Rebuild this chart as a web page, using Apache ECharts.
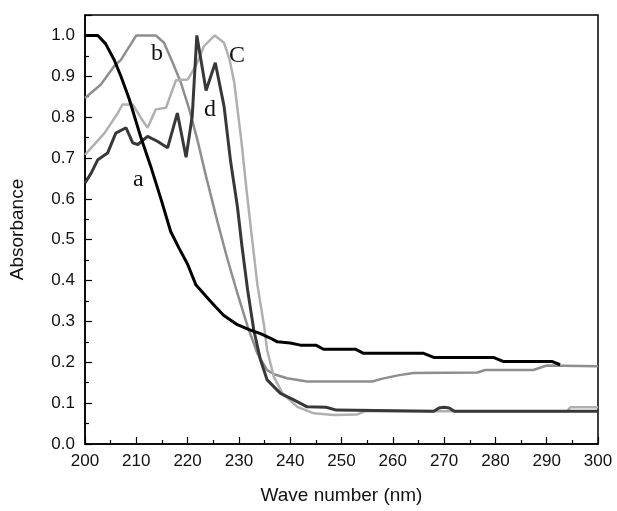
<!DOCTYPE html>
<html>
<head>
<meta charset="utf-8">
<script src="https://cdn.jsdelivr.net/npm/echarts@6/dist/echarts.min.js"></script>
<style>
  html, body { margin: 0; padding: 0; background: #fff; }
  #chart { width: 617px; height: 511px; }
</style>
</head>
<body>
<div id="chart"></div>
<script>
// curve a
var aX = [200, 202.5, 204, 205.7, 207, 208.6, 210.9, 212.8, 214.8, 216.7, 218.3, 220, 221.6, 224.5, 227, 229.7, 232, 234.2, 236, 237.5, 240, 242, 245, 246.5, 252.7, 254.3, 266, 268, 279.6, 281.5, 291, 292.6]
var aY = [1.0, 1.0, 0.98, 0.94, 0.9, 0.845, 0.75, 0.68, 0.6, 0.52, 0.48, 0.44, 0.39, 0.349, 0.315, 0.292, 0.28, 0.27, 0.26, 0.25, 0.247, 0.242, 0.242, 0.232, 0.232, 0.222, 0.222, 0.212, 0.212, 0.202, 0.202, 0.194]
// curve b
var bX = [200, 203.1, 205.7, 207, 210, 213.8, 215.4, 217.1, 218.7, 220.3, 221.9, 223.5, 225.8, 227.8, 229.7, 231.7, 233.6, 235.5, 237, 239.4, 243.3, 256, 258, 261, 264, 276.5, 278, 287.4, 290, 300]
var bY = [0.847, 0.88, 0.925, 0.94, 1.0, 1.0, 0.982, 0.933, 0.884, 0.82, 0.745, 0.66, 0.545, 0.451, 0.369, 0.288, 0.222, 0.181, 0.17, 0.161, 0.153, 0.153, 0.16, 0.168, 0.174, 0.175, 0.181, 0.181, 0.192, 0.19]
// curve c
var cX = [200, 203.8, 206.4, 207.3, 209.3, 210.9, 212.2, 213.8, 215.8, 217.7, 220, 221.6, 223.2, 225.3, 227.1, 228.2, 229.1, 230.5, 231.5, 232.5, 233.6, 234.9, 235.5, 236.8, 238.5, 241.4, 244.6, 248.5, 253, 254.5, 294, 294.6, 300]
var cY = [0.708, 0.761, 0.81, 0.831, 0.831, 0.798, 0.774, 0.819, 0.823, 0.89, 0.892, 0.925, 0.974, 1.0, 0.982, 0.94, 0.884, 0.74, 0.62, 0.51, 0.39, 0.29, 0.23, 0.165, 0.124, 0.091, 0.075, 0.071, 0.072, 0.08, 0.08, 0.09, 0.09]
// curve d
var dX = [200, 201.2, 202.5, 204.4, 206, 208, 209.3, 210.3, 212.2, 214.1, 216.1, 218, 219.7, 220.9, 221.8, 223.6, 225.4, 227.1, 228.4, 229.7, 230.6, 231.7, 232.9, 234.2, 235.5, 238.1, 240.7, 243.3, 247, 249, 268, 269, 270, 271, 272, 300]
var dY = [0.639, 0.663, 0.696, 0.712, 0.761, 0.774, 0.737, 0.733, 0.753, 0.741, 0.725, 0.81, 0.702, 0.802, 1.0, 0.865, 0.933, 0.827, 0.69, 0.582, 0.484, 0.377, 0.279, 0.206, 0.157, 0.124, 0.108, 0.091, 0.09, 0.083, 0.08, 0.088, 0.09, 0.088, 0.08, 0.08]

var curveNames = ['a', 'b', 'C', 'd']

function pairs (xs, ys) {
  return xs.map(function (x, i) { return [x, ys[i]] })
}

var chart = echarts.init(document.getElementById('chart'))
var axisFont = { fontFamily: 'Liberation Sans', fontSize: 17, color: '#111' }

var option = {
  animation: false,
  backgroundColor: '#fff',
  grid: {
    left: 84, right: 19, top: 15, bottom: 67,
    show: true, borderColor: '#000', borderWidth: 1.5
  },
  xAxis: {
    type: 'value', min: 200, max: 300, interval: 10,
    name: 'Wave number (nm)', nameLocation: 'middle', nameGap: 42,
    nameTextStyle: { fontFamily: 'Liberation Sans', fontSize: 19, color: '#111' },
    axisLine: { show: true, lineStyle: { color: '#000', width: 1.5 } },
    axisTick: { show: true, inside: true, length: 7, lineStyle: { color: '#000', width: 1.2 } },
    minorTick: { show: true, splitNumber: 2, length: 4, lineStyle: { color: '#000', width: 1.2 } },
    axisLabel: Object.assign({ margin: 9 }, axisFont),
    splitLine: { show: false }
  },
  yAxis: {
    type: 'value', min: 0, max: 1.05, interval: 0.1,
    name: 'Absorbance', nameLocation: 'middle', nameGap: 58,
    nameTextStyle: { fontFamily: 'Liberation Sans', fontSize: 19, color: '#111' },
    axisLine: { show: true, lineStyle: { color: '#000', width: 1.5 } },
    axisTick: { show: true, inside: true, length: 7, lineStyle: { color: '#000', width: 1.2 } },
    minorTick: { show: true, splitNumber: 2, length: 4, lineStyle: { color: '#000', width: 1.2 } },
    axisLabel: Object.assign({
      margin: 10, showMaxLabel: false,
      formatter: function (v) { return v.toFixed(1) }
    }, axisFont),
    splitLine: { show: false }
  },
  series: [
    { name: 'b', type: 'line', data: pairs(bX, bY), symbol: 'none', lineStyle: { color: '#8e8e8e', width: 2.5 } },
    { name: 'C', type: 'line', data: pairs(cX, cY), symbol: 'none', lineStyle: { color: '#b0b0b0', width: 2.5 } },
    { name: 'd', type: 'line', data: pairs(dX, dY), symbol: 'none', lineStyle: { color: '#383838', width: 3 } },
    { name: 'a', type: 'line', data: pairs(aX, aY), symbol: 'none', lineStyle: { color: '#000', width: 3 } }
  ],
  graphic: [
    { type: 'text', left: 133, top: 168, style: { text: curveNames[0], font: '24px "Liberation Serif"', fill: '#111' } },
    { type: 'text', left: 151, top: 42, style: { text: curveNames[1], font: '24px "Liberation Serif"', fill: '#111' } },
    { type: 'text', left: 229, top: 44, style: { text: curveNames[2], font: '24px "Liberation Serif"', fill: '#111' } },
    { type: 'text', left: 204, top: 98, style: { text: curveNames[3], font: '24px "Liberation Serif"', fill: '#111' } }
  ]
}
chart.setOption(option)
</script>
</body>
</html>
